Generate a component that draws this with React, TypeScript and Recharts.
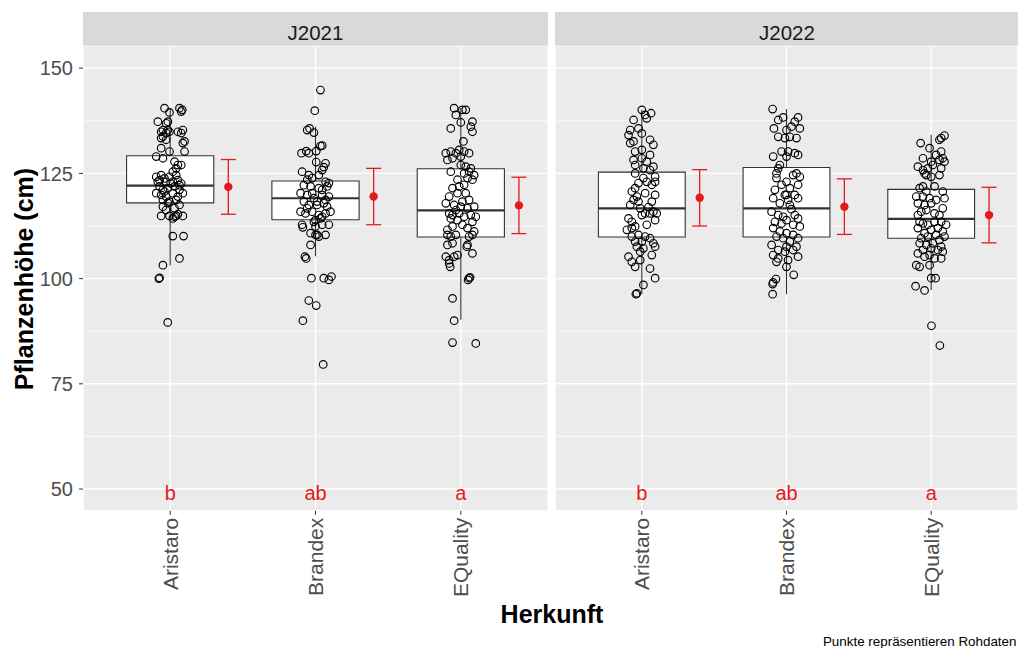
import React from 'react';
import {
  ComposedChart,
  Scatter,
  XAxis,
  YAxis,
  CartesianGrid,
  ReferenceArea,
  ReferenceLine,
  ErrorBar,
} from 'recharts';

// ---- data -------------------------------------------------------------

const herkunft = ['Aristaro', 'Brandex', 'EQuality'];
const jahre = ['J2021', 'J2022'];
const letters = ['b', 'ab', 'a'];
const yTicks = [50, 75, 100, 125, 150];
const yMinor = [62.5, 87.5, 112.5, 137.5];
const letterHeight = 50;

// Boxplot statistics per Herkunft: [Q1, median, Q3, lower whisker, upper whisker]
const box2021: number[][] = [
  [118.0, 122.1, 129.2, 103.1, 140.5],
  [114.0, 119.1, 123.2, 105.3, 136.1],
  [109.9, 116.2, 126.1, 90.2, 140.6],
];
const box2022: number[][] = [
  [109.9, 116.7, 125.3, 96.3, 140.1],
  [109.9, 116.7, 126.4, 96.3, 140.3],
  [109.6, 114.2, 121.2, 97.3, 134.2],
];

// Mean and standard deviation per Herkunft
const mean2021 = [121.8, 119.5, 117.4];
const sd2021 = [6.5, 6.7, 6.7];
const mean2022 = [119.2, 117.1, 115.1];
const sd2022 = [6.7, 6.6, 6.6];

// Raw plant heights: [horizontal jitter (category widths), height in cm]
const aristaro2021: number[][] = [
  [-0.039, 140.5], [-0.005, 139.5], [0.064, 140.5], [0.083, 140.1], [0.076, 139.7],
  [-0.085, 137.3], [-0.028, 136.9], [-0.016, 137.3],
  [-0.05, 135.3], [-0.016, 135.3], [-0.062, 134.9], [-0.028, 134.6], [-0.005, 134.9], [0.053, 134.9], [0.087, 135.3], [0.076, 134.6],
  [-0.062, 133.4], [-0.028, 133.0], [-0.05, 133.8], [0.087, 132.2], [0.099, 132.6],
  [-0.062, 131.0], [-0.005, 130.2], [0.099, 130.2], [-0.096, 129.0], [-0.05, 128.6],
  [0.03, 127.8], [0.053, 127.0], [0.041, 126.2], [0.076, 127.0], [0.018, 125.4],
  [-0.096, 124.2], [-0.062, 124.6], [-0.039, 123.8], [-0.005, 124.2], [0.041, 124.6],
  [-0.085, 123.0], [-0.028, 123.0], [0.018, 123.0], [0.053, 123.4], [0.076, 122.6],
  [-0.073, 121.9], [-0.05, 121.1], [-0.016, 121.5], [0.03, 121.9], [0.064, 121.1],
  [-0.096, 120.3], [-0.062, 119.9], [-0.028, 119.5], [0.018, 120.3], [0.053, 119.5], [0.087, 120.3],
  [-0.05, 118.7], [-0.005, 118.3], [0.041, 118.7],
  [-0.05, 117.1], [-0.028, 116.3], [0.03, 116.7], [0.064, 117.5],
  [-0.062, 114.9], [-0.005, 114.9], [0.03, 114.7], [0.053, 115.3], [0.087, 114.9], [0.018, 114.3],
  [-0.073, 123.4], [0.003, 122.6], [-0.039, 120.7], [0.064, 122.2], [-0.016, 118.0], [0.041, 114.9],
  [0.018, 110.1], [0.092, 110.1],
  [0.064, 104.8], [-0.05, 103.2], [-0.078, 100.0], [-0.073, 100.2], [-0.017, 89.6],
];

const brandex2021: number[][] = [
  [0.034, 144.8], [-0.005, 139.9], [-0.057, 135.3], [-0.041, 135.7], [-0.011, 134.7], [0.034, 131.5], [0.046, 131.6],
  [-0.096, 129.8], [-0.064, 130.3], [-0.046, 129.8], [0.005, 130.3],
  [0.005, 127.7], [0.069, 127.4], [0.057, 126.5], [0.046, 125.8],
  [-0.092, 125.4], [-0.046, 124.6], [-0.023, 123.9], [-0.057, 123.5], [0.023, 124.6],
  [0.069, 123.0], [0.092, 122.7], [0.08, 121.9], [0.046, 121.1], [0.023, 121.5],
  [-0.103, 120.3], [-0.057, 119.9], [-0.023, 120.3], [-0.011, 119.1], [0.046, 119.9], [0.092, 119.5], [0.069, 118.7],
  [-0.08, 118.3], [-0.046, 117.5], [0.011, 117.5], [0.057, 117.9], [0.08, 117.1],
  [-0.103, 115.9], [-0.069, 115.5], [-0.023, 115.9], [0.023, 115.1], [0.069, 115.5], [0.103, 115.9],
  [0.034, 114.3], [0.0, 113.9],
  [-0.08, 122.2], [-0.034, 121.9], [0.011, 118.3], [-0.057, 116.7], [0.046, 114.7], [-0.011, 113.5],
  [-0.092, 112.8], [-0.087, 112.2], [0.046, 112.8], [0.092, 112.8], [0.0, 112.4],
  [-0.034, 110.8], [0.011, 110.4], [0.069, 110.4], [0.023, 110.0], [0.0, 110.4],
  [-0.034, 108.0], [-0.073, 105.2], [-0.064, 104.8],
  [-0.028, 100.1], [0.057, 100.1], [0.092, 99.7], [0.11, 100.5],
  [-0.046, 94.8], [0.005, 93.6], [-0.087, 90.0], [0.053, 79.6],
];

const equality2021: number[][] = [
  [-0.046, 140.5], [0.011, 140.1], [0.034, 140.1], [-0.034, 138.9],
  [-0.069, 135.7], [0.0, 137.1], [0.08, 137.3], [0.069, 136.1], [0.08, 134.9], [0.018, 132.6],
  [-0.103, 129.8], [-0.092, 128.2], [-0.069, 130.2], [-0.034, 129.8], [-0.011, 130.6], [0.023, 130.2], [0.057, 129.8], [-0.057, 128.6], [0.0, 129.0],
  [0.0, 127.0], [0.034, 126.6], [0.069, 126.2], [0.057, 125.4], [0.023, 125.0], [0.092, 124.6], [-0.069, 125.4], [-0.023, 123.5], [0.046, 123.9], [0.08, 123.5],
  [-0.011, 121.9], [0.023, 122.3], [-0.057, 121.5], [0.046, 116.7], [-0.023, 113.9],
  [-0.08, 119.5], [-0.023, 120.3], [0.034, 120.3], [0.057, 118.7], [0.092, 117.1], [-0.103, 117.9], [-0.046, 117.5], [0.011, 118.3], [0.0, 117.1],
  [-0.08, 115.5], [-0.057, 115.1], [-0.034, 116.3], [-0.011, 115.5], [0.023, 114.7], [0.069, 115.1], [0.103, 114.7], [-0.069, 114.3],
  [-0.057, 112.4], [-0.092, 111.6], [0.011, 112.8], [0.08, 113.5], [0.046, 112.0], [0.092, 111.2],
  [-0.092, 110.4], [-0.069, 110.0], [-0.034, 110.4], [0.057, 110.0], [0.08, 110.4],
  [-0.092, 108.0], [-0.057, 108.4], [0.046, 108.0], [0.08, 106.0], [0.041, 107.6],
  [-0.103, 105.2], [-0.08, 104.4], [-0.046, 105.2], [-0.023, 105.6], [-0.073, 102.8], [-0.08, 103.6],
  [0.057, 100.1], [0.05, 99.7], [0.064, 100.3],
  [-0.057, 95.3], [-0.046, 90.0], [-0.057, 84.8], [0.103, 84.6],
];

const aristaro2022: number[][] = [
  [0.0, 140.1], [-0.057, 137.7], [0.034, 138.1], [0.064, 139.3], [0.023, 138.9],
  [-0.08, 135.3], [-0.092, 134.1], [-0.023, 135.7], [0.0, 134.5], [-0.057, 132.6], [-0.08, 132.2], [0.057, 133.0], [0.08, 131.8],
  [0.0, 130.6], [-0.046, 130.2], [0.057, 129.4], [0.0, 128.6], [-0.057, 128.2], [0.034, 127.8], [-0.046, 127.0], [0.08, 126.6], [0.011, 126.2], [0.057, 125.8], [-0.046, 125.0],
  [0.092, 124.2], [0.011, 123.9], [-0.023, 122.7], [0.034, 123.0], [0.069, 122.3], [0.092, 123.0],
  [-0.069, 120.7], [0.023, 120.3], [-0.034, 119.5], [0.069, 118.3], [-0.08, 117.5], [-0.057, 118.7], [0.092, 119.9], [-0.023, 118.3],
  [0.046, 117.0], [-0.011, 116.7], [0.034, 112.8], [-0.046, 121.5],
  [0.023, 115.5], [0.057, 115.5], [0.08, 115.9], [0.0, 115.1], [-0.092, 114.3], [-0.069, 113.5], [0.092, 113.9], [0.103, 115.5], [-0.103, 111.6], [-0.046, 112.4], [-0.069, 112.0],
  [-0.023, 110.4], [0.023, 110.0], [0.057, 109.6], [0.0, 108.8], [0.08, 108.4], [-0.046, 108.8], [-0.069, 110.0],
  [-0.034, 107.6], [0.011, 107.2], [0.092, 107.6], [-0.011, 106.4], [0.069, 105.6], [-0.092, 105.2], [-0.069, 104.0], [-0.046, 102.8], [-0.011, 104.4],
  [0.057, 102.4], [0.092, 100.1], [0.011, 98.5], [-0.034, 96.5], [-0.041, 96.3],
];

const brandex2022: number[][] = [
  [-0.096, 140.3],
  [-0.057, 137.7], [-0.023, 138.3], [0.08, 138.3], [0.057, 137.3], [-0.087, 135.7], [0.034, 136.1], [0.092, 135.7], [0.0, 135.3],
  [-0.057, 133.7], [-0.011, 133.4], [0.023, 133.7], [0.069, 133.4],
  [-0.034, 130.2], [0.011, 130.2], [0.057, 129.8], [0.08, 129.4], [-0.092, 129.0], [0.0, 129.0],
  [-0.046, 127.0], [-0.057, 126.2], [-0.069, 125.0], [0.069, 125.0], [0.046, 124.6], [0.092, 124.2], [0.0, 123.0], [-0.069, 123.9],
  [-0.034, 122.3], [0.08, 122.3], [-0.08, 121.1], [0.023, 121.5], [-0.011, 119.9], [0.0, 119.9], [0.057, 119.9], [-0.092, 119.1], [0.08, 119.1], [-0.046, 117.9], [0.023, 117.5],
  [0.034, 116.5], [-0.023, 114.7], [0.011, 118.7],
  [-0.103, 115.9], [-0.057, 115.1], [0.057, 115.1], [0.08, 114.3], [0.0, 113.9], [-0.08, 113.5], [-0.034, 113.1], [0.046, 112.8],
  [-0.092, 112.0], [0.092, 112.4], [-0.046, 111.2], [0.0, 110.8], [0.046, 110.4], [-0.069, 110.0], [0.08, 109.6], [-0.023, 109.6], [0.023, 108.8],
  [-0.103, 108.0], [0.0, 107.6], [0.069, 107.6], [-0.057, 106.8], [0.046, 106.8], [-0.011, 106.4], [-0.092, 105.6], [0.08, 105.2], [-0.057, 104.8], [0.011, 104.4], [-0.069, 104.0], [0.0, 102.8],
  [0.05, 100.9], [-0.073, 99.9], [-0.092, 99.1], [-0.096, 98.7], [-0.096, 96.3],
];

const equality2022: number[][] = [
  [0.092, 134.0], [0.069, 133.4], [0.057, 133.0], [-0.073, 132.2],
  [-0.011, 131.0], [0.069, 130.2], [0.034, 129.4], [-0.057, 128.6], [0.08, 128.6], [0.057, 128.2], [0.0, 127.8], [0.092, 127.8], [-0.092, 126.6], [-0.023, 126.2], [-0.057, 125.8], [0.011, 127.0], [0.069, 126.2],
  [-0.046, 125.0], [-0.034, 124.6], [0.0, 124.2], [0.057, 124.6], [0.023, 121.9], [-0.057, 121.9], [-0.08, 121.5], [-0.034, 120.7], [0.08, 120.7],
  [-0.103, 119.5], [-0.057, 119.5], [-0.011, 119.1], [0.034, 118.7], [0.092, 119.1], [-0.092, 117.9], [-0.046, 117.5], [0.0, 117.9], [0.08, 116.7], [-0.069, 115.9], [-0.034, 116.3], [0.023, 115.5], [0.057, 115.1], [-0.092, 115.1],
  [-0.08, 113.5], [-0.057, 113.1], [-0.023, 112.8], [0.023, 113.5], [0.069, 113.5], [0.103, 112.8], [-0.092, 112.0], [0.0, 111.6], [0.046, 112.0], [0.08, 111.2], [-0.046, 110.8], [-0.023, 110.0], [0.034, 110.4], [0.092, 110.0], [-0.069, 109.6], [0.057, 109.2],
  [-0.08, 108.4], [-0.034, 108.0], [0.011, 108.4], [0.069, 107.6], [-0.057, 106.8], [0.0, 107.2], [0.046, 106.8], [0.08, 106.4], [-0.092, 106.0], [-0.011, 105.6], [-0.046, 105.2], [0.023, 104.8], [0.069, 104.8],
  [-0.103, 103.2], [-0.08, 102.8], [-0.011, 103.2], [0.0, 100.1], [0.03, 100.1], [-0.108, 98.2], [-0.046, 97.2],
  [0.002, 88.8], [0.06, 84.1],
];

const points2021 = [aristaro2021, brandex2021, equality2021];
const points2022 = [aristaro2022, brandex2022, equality2022];

// ---- styling ----------------------------------------------------------

const FONT = '"Liberation Sans", Arial, Helvetica, sans-serif';
const RED = '#E31A1C';
const PANEL_BG = '#EBEBEB';
const STRIP_BG = '#D9D9D9';
const TEXT_GREY = '#4D4D4D';
const DARK = '#333333';

const CHART_H = 648;
const PLOT_TOP = 45.7;
const X_AXIS_H = 137.3;
const Y_DOMAIN: [number, number] = [44.85, 155.35];
const X_DOMAIN: [number, number] = [0.4, 3.6];
const BOX_HALF = 0.3;
const MEAN_SHIFT = 0.4;

const Ring = (p: any) =>
  p.cx == null ? null : (
    <circle cx={p.cx} cy={p.cy} r={3.8} fill="none" stroke="#000" strokeWidth={1.15} />
  );

const MeanDot = (p: any) =>
  p.cx == null ? null : <circle cx={p.cx} cy={p.cy} r={4.2} fill={RED} />;

const Letter = (p: any) =>
  p.cx == null ? null : (
    <text x={p.cx} y={p.cy} dy={10.5} textAnchor="middle" fontSize={20} fill={RED} fontFamily={FONT}>
      {p.payload?.label}
    </text>
  );

const XTick = (p: any) => (
  <text
    x={p.x}
    y={p.y}
    transform={`rotate(-90 ${p.x} ${p.y})`}
    textAnchor="end"
    dy="0.35em"
    fontSize={21}
    fill={TEXT_GREY}
    fontFamily={FONT}
  >
    {herkunft[Math.round(p.payload.value) - 1]}
  </text>
);

type PanelProps = {
  points: number[][][];
  box: number[][];
  mean: number[];
  sd: number[];
  showY: boolean;
  width: number;
};

function Panel({ points, box, mean, sd, showY, width }: PanelProps) {
  const raw = points.flatMap((grp, i) => grp.map(([j, v]) => ({ x: i + 1 + j, y: v })));
  const means = mean.map((m, i) => ({ x: i + 1 + MEAN_SHIFT, y: m, sd: sd[i] }));
  const letterData = letters.map((l, i) => ({ x: i + 1, y: letterHeight, label: l }));

  return (
    <ComposedChart
      width={width}
      height={CHART_H}
      margin={{ top: PLOT_TOP, right: 0, bottom: 0, left: 0 }}
    >
      <CartesianGrid stroke="#FFFFFF" strokeWidth={1.4} fill={PANEL_BG} fillOpacity={1} />
      <CartesianGrid
        stroke="#FFFFFF"
        strokeWidth={0.7}
        vertical={false}
        horizontalValues={yMinor}
      />
      <XAxis
        type="number"
        dataKey="x"
        domain={X_DOMAIN}
        allowDataOverflow
        ticks={[1, 2, 3]}
        interval={0}
        height={X_AXIS_H}
        axisLine={false}
        tickLine={{ stroke: DARK }}
        tickSize={4}
        tickMargin={3}
        tick={<XTick />}
      />
      <YAxis
        type="number"
        dataKey="y"
        domain={Y_DOMAIN}
        allowDataOverflow
        ticks={yTicks}
        interval={0}
        width={showY ? 83 : 0}
        hide={!showY}
        axisLine={false}
        tickLine={{ stroke: DARK }}
        tickSize={4}
        tickMargin={6}
        tick={{ fill: TEXT_GREY, fontSize: 20, fontFamily: FONT }}
      />

      {box.map((b, i) => (
        <ReferenceArea
          key={`box-${i}`}
          x1={i + 1 - BOX_HALF}
          x2={i + 1 + BOX_HALF}
          y1={b[0]}
          y2={b[2]}
          fill="#FFFFFF"
          fillOpacity={1}
          stroke={DARK}
          strokeWidth={1.1}
        />
      ))}
      {box.map((b, i) => (
        <ReferenceLine
          key={`wu-${i}`}
          segment={[
            { x: i + 1, y: b[2] },
            { x: i + 1, y: b[4] },
          ]}
          stroke={DARK}
          strokeWidth={1.1}
        />
      ))}
      {box.map((b, i) => (
        <ReferenceLine
          key={`wl-${i}`}
          segment={[
            { x: i + 1, y: b[0] },
            { x: i + 1, y: b[3] },
          ]}
          stroke={DARK}
          strokeWidth={1.1}
        />
      ))}
      {box.map((b, i) => (
        <ReferenceLine
          key={`med-${i}`}
          segment={[
            { x: i + 1 - BOX_HALF, y: b[1] },
            { x: i + 1 + BOX_HALF, y: b[1] },
          ]}
          stroke={DARK}
          strokeWidth={2.2}
        />
      ))}

      <Scatter data={raw} dataKey="y" shape={Ring} isAnimationActive={false} />
      <Scatter data={means} dataKey="y" shape={MeanDot} isAnimationActive={false}>
        <ErrorBar dataKey="sd" direction="y" width={7.5} stroke={RED} strokeWidth={1.3} isAnimationActive={false} />
      </Scatter>
      <Scatter data={letterData} dataKey="y" shape={Letter} isAnimationActive={false} />
    </ComposedChart>
  );
}

export default function App() {
  return (
    <div
      style={{
        position: 'absolute',
        left: 0,
        top: 0,
        width: 1018,
        height: 648,
        background: '#FFFFFF',
        fontFamily: FONT,
        overflow: 'hidden',
      }}
    >
      <div style={{ position: 'absolute', left: 0, top: 0 }}>
        <Panel points={points2021} box={box2021} mean={mean2021} sd={sd2021} showY width={548} />
      </div>
      <div style={{ position: 'absolute', left: 555, top: 0 }}>
        <Panel points={points2022} box={box2022} mean={mean2022} sd={sd2022} showY={false} width={463} />
      </div>

      <svg
        width={1018}
        height={648}
        style={{ position: 'absolute', left: 0, top: 0, pointerEvents: 'none' }}
        fontFamily={FONT}
      >
        <rect x={83} y={12} width={465} height={33.7} fill={STRIP_BG} />
        <text x={315.5} y={40} textAnchor="middle" fontSize={20.5} fill="#1A1A1A">
          {jahre[0]}
        </text>
        <rect x={555} y={12} width={463} height={33.7} fill={STRIP_BG} />
        <text x={787} y={40} textAnchor="middle" fontSize={20.5} fill="#1A1A1A">
          {jahre[1]}
        </text>

        <text
          x={33}
          y={279}
          transform="rotate(-90 33 279)"
          textAnchor="middle"
          fontWeight="bold"
          fontSize={25}
          fill="#000"
        >
          Pflanzenhöhe (cm)
        </text>
        <text x={552} y={622.5} textAnchor="middle" fontWeight="bold" fontSize={25} fill="#000">
          Herkunft
        </text>
        <text x={1016.5} y={646} textAnchor="end" fontSize={13.4} fill="#000">
          Punkte repräsentieren Rohdaten
        </text>
      </svg>
    </div>
  );
}
